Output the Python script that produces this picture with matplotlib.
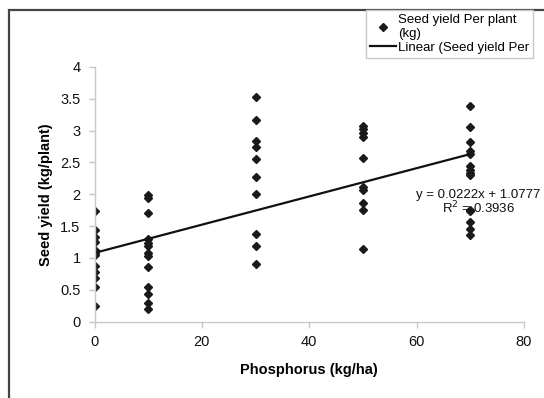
import matplotlib
matplotlib.use("Agg")
import matplotlib.pyplot as plt
from matplotlib.patches import Rectangle
import numpy as np

plt.rcParams['font.family'] = ['Liberation Sans', 'DejaVu Sans']

# ── data ──────────────────────────────────────────────────────────────────────
p0 = [1.73, 1.44, 1.33, 1.25, 1.13, 1.08, 1.05, 0.88, 0.78, 0.68, 0.54, 0.25]
p10 = [1.99, 1.94, 1.70, 1.29, 1.24, 1.18, 1.07, 1.03, 0.86, 0.54, 0.43, 0.29, 0.19]
p30 = [3.53, 3.16, 2.84, 2.75, 2.56, 2.27, 2.01, 1.38, 1.19, 0.90]
p50 = [3.08, 3.03, 2.96, 2.90, 2.57, 2.12, 2.07, 1.86, 1.76, 1.14]
p70 = [3.38, 3.05, 2.82, 2.68, 2.64, 2.45, 2.38, 2.34, 2.30, 1.76, 1.73, 1.57, 1.46, 1.36]

doses = [0, 10, 30, 50, 70]
groups = [p0, p10, p30, p50, p70]

# trendline as printed on the chart
slope = 0.0222
intercept = 1.0777
r2 = 0.3936

x = np.concatenate([[d] * len(g) for d, g in zip(doses, groups)])
y = np.concatenate(groups)

W, H = 544, 398

# ── figure ────────────────────────────────────────────────────────────────────
fig = plt.figure(figsize=(W / 100, H / 100), dpi=100)
ax = fig.add_axes([94.5 / W, 1 - 321.5 / H, (524 - 94.5) / W, (321.5 - 67) / H])

pts, = ax.plot(x, y, linestyle='none', marker='D', markersize=4.2,
               color='#1a1a1a', label='Seed yield Per plant\n(kg)')
xf = np.array([min(doses), max(doses)])
fit, = ax.plot(xf, slope * xf + intercept, color='#111111', linewidth=1.6,
               label='Linear (Seed yield Per')

ax.set_xlim(0, 80)
ax.set_ylim(0, 4)
ax.set_xticks(np.arange(0, 81, 20))
ax.set_yticks(np.arange(0, 4.01, 0.5))
ax.set_yticklabels(['0', '0.5', '1', '1.5', '2', '2.5', '3', '3.5', '4'])

for s in ['top', 'right']:
    ax.spines[s].set_visible(False)
for s in ['left', 'bottom']:
    ax.spines[s].set_color('#c8c8c8')
    ax.spines[s].set_linewidth(1.0)
ax.tick_params(axis='both', colors='#c8c8c8', labelcolor='#111111',
               labelsize=10.5, length=4, width=1.0, direction='out', pad=6)

ax.set_xlabel('Phosphorus (kg/ha)', fontsize=10.5, fontweight='bold', labelpad=10)
ax.set_ylabel('Seed yield (kg/plant)', fontsize=10.5, fontweight='bold')
ax.yaxis.set_label_coords((53 - 94.5) / (524 - 94.5), 0.5)

# trendline equation
fig.text(478 / W, 1 - 195 / H, 'y = %.4fx + %.4f' % (slope, intercept),
         fontsize=9.5, ha='center', va='center', color='#111111')
fig.text(478 / W, 1 - 208 / H, 'R$^2$ = %.4f' % r2, fontsize=9.5,
         ha='center', va='center', color='#111111')

# outer chart frame (only top/left edges are inside the picture)
fig.patches.append(Rectangle((9 / W, -0.1), 1.2, 1 - 10 / H + 0.1,
                             transform=fig.transFigure, fill=False,
                             edgecolor='#444444', linewidth=1.6))

leg = fig.legend(handles=[pts, fit], loc='upper left',
                 bbox_to_anchor=(366 / W, 1 - 10 / H), fontsize=9.5,
                 frameon=True, fancybox=False, edgecolor='#c8c8c8',
                 framealpha=1, borderaxespad=0, borderpad=0.3,
                 labelspacing=0.15, handlelength=2.0, handletextpad=0.1)
leg.get_frame().set_linewidth(1.0)

fig.savefig('out.png', dpi=100)
